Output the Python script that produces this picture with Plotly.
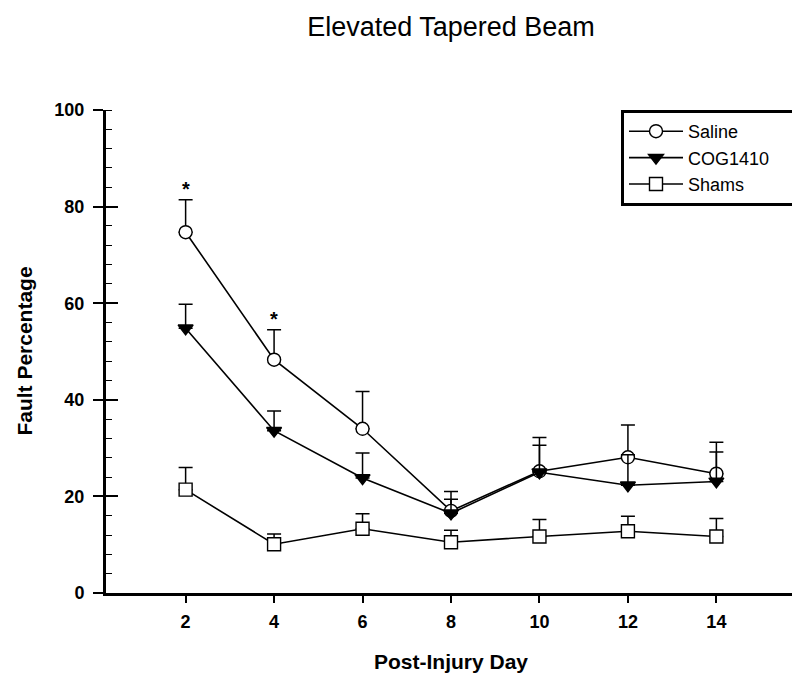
import plotly.graph_objects as go

days = [2, 4, 6, 8, 10, 12, 14]
saline = [74.7, 48.3, 34.0, 17.0, 25.2, 28.1, 24.7]
saline_err = [6.7, 6.2, 7.7, 4.0, 7.0, 6.7, 6.5]
cog1410 = [54.8, 33.6, 23.8, 16.5, 25.0, 22.3, 23.1]
cog1410_err = [5.0, 4.1, 5.2, 2.9, 5.6, 6.3, 6.1]
shams = [21.4, 10.1, 13.3, 10.5, 11.7, 12.8, 11.7]
shams_err = [4.6, 2.1, 3.1, 2.5, 3.5, 3.1, 3.7]
x_ticks = [2, 4, 6, 8, 10, 12, 14]
y_ticks = [0, 20, 40, 60, 80, 100]
star_days = [2, 4]

FONT = "Liberation Sans, Arial, sans-serif"
NB = "\u00a0"

def series(name, y, err, symbol, fill):
    return go.Scatter(
        x=days, y=y, name=name, mode="lines+markers",
        line=dict(color="black", width=1.6),
        marker=dict(symbol=symbol, size=13, color=fill,
                    line=dict(color="black", width=1.4)),
        error_y=dict(type="data", symmetric=False, array=err,
                     arrayminus=[0] * len(err), color="black",
                     thickness=1.5, width=7),
    )

fig = go.Figure()
fig.add_trace(series("Saline", saline, saline_err, "circle", "white"))
fig.add_trace(series("COG1410" + NB * 4, cog1410, cog1410_err, "triangle-down", "black"))
fig.add_trace(series("Shams", shams, shams_err, "square", "white"))
fig.add_trace(go.Scatter(x=[], y=[], yaxis="y2", showlegend=False, hoverinfo="skip"))

# significance asterisks above the saline error bars
for d in star_days:
    i = days.index(d)
    fig.add_annotation(x=d, y=saline[i] + saline_err[i], text="<b>*</b>",
                       showarrow=False, yanchor="bottom", yshift=-2,
                       font=dict(family=FONT, size=20, color="black"))

# axis titles
fig.add_annotation(text="<b>Fault Percentage</b>", textangle=-90,
                   xref="paper", yref="paper", x=-82 / 691, y=0.5,
                   xanchor="center", yanchor="middle", showarrow=False,
                   font=dict(family=FONT, size=21, color="black"))
fig.add_annotation(text="<b>Post-Injury Day</b>",
                   xref="paper", yref="paper", x=0.5, y=-(653 - 585) / 483,
                   xanchor="center", yanchor="middle", showarrow=False,
                   font=dict(family=FONT, size=21, color="black"))

fig.update_layout(
    width=800, height=676,
    paper_bgcolor="white", plot_bgcolor="white",
    margin=dict(l=98, r=11, t=102, b=91),
    title=dict(text="Elevated Tapered Beam", x=0.5, xanchor="center",
               xref="paper", y=1 - 19 / 676, yanchor="middle",
               font=dict(family=FONT, size=27, color="black")),
    font=dict(family=FONT, color="black"),
    showlegend=True,
    legend=dict(x=(613 - 98) / 691, y=1.0, xanchor="left", yanchor="top",
                bordercolor="black", borderwidth=3, bgcolor="white",
                font=dict(family=FONT, size=18, color="black"),
                itemwidth=54, tracegroupgap=0),
    xaxis=dict(range=[0.2, 15.8], tickvals=x_ticks, ticktext=[str(v) for v in x_ticks],
               ticks="outside", ticklen=7, tickwidth=1.5, tickcolor="black",
               showline=True, linewidth=3, linecolor="black",
               showgrid=False, zeroline=False, automargin=False,
               ticklabelstandoff=3,
               tickfont=dict(family=FONT, size=18, color="black", weight="bold")),
    yaxis=dict(range=[0, 100], tickvals=y_ticks, ticks="outside", ticklen=10,
               tickwidth=1.5, tickcolor="black",
               showline=True, linewidth=3, linecolor="black",
               showgrid=False, zeroline=False, automargin=False,
               ticklabelstandoff=5,
               minor=dict(dtick=4, ticks="inside", ticklen=6, tickwidth=1.2,
                          tickcolor="black", showgrid=False),
               tickfont=dict(family=FONT, size=18, color="black", weight="bold")),
    yaxis2=dict(range=[0, 100], overlaying="y", side="left", tickvals=y_ticks,
                ticks="inside", ticklen=12, tickwidth=1.5, tickcolor="black",
                showticklabels=False, showline=False, showgrid=False,
                zeroline=False, automargin=False),
)

fig.write_html("out.html")
